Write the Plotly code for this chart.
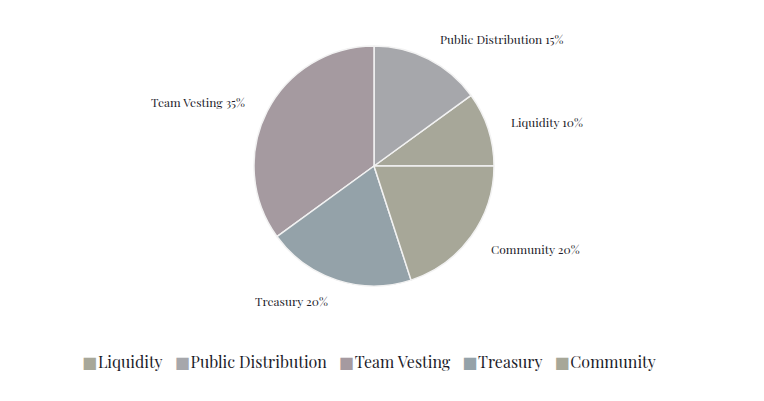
import math
import plotly.graph_objects as go

labels = ["Liquidity", "Public Distribution", "Team Vesting", "Treasury", "Community"]
values = [10, 15, 35, 20, 20]
colors = ["#a7a799", "#a6a7ab", "#a59aa0", "#94a2a9", "#a7a798"]

W, H = 764, 401
CX, CY, R = 374, 166, 120
FONT = "Playfair Display, Liberation Serif, DejaVu Serif, serif"
TEXT_COLOR = "#1c1c2a"

total = sum(values)
first_span = values[0] / total * 360.0

fig = go.Figure(go.Pie(
    labels=labels,
    values=values,
    sort=False,
    direction="counterclockwise",
    rotation=90 - first_span,
    marker=dict(colors=colors, line=dict(color="#f2f2f2", width=1.5)),
    textinfo="none",
    hoverinfo="label+percent",
    showlegend=False,
    domain=dict(x=[(CX - R) / W, (CX + R) / W], y=[1 - (CY + R) / H, 1 - (CY - R) / H]),
))

# outside labels placed at slice mid-angles derived from the data
start = 90.0
annotations = []
for lab, v in zip(labels, values):
    span = v / total * 360.0
    mid = math.radians(start - span / 2)
    start -= span
    rr = R + 22
    px = CX + rr * math.sin(mid)
    py = CY - rr * math.cos(mid)
    annotations.append(dict(
        x=px / W, y=1 - py / H, xref="paper", yref="paper",
        text=f"{lab} {v}%", showarrow=False,
        xanchor="left" if math.sin(mid) >= 0 else "right", yanchor="middle",
        font=dict(family=FONT, size=12, color=TEXT_COLOR),
    ))

# legend row
parts = []
for lab, c in zip(labels, colors):
    parts.append(
        f"<span style='font-family:DejaVu Sans;font-size:16px;color:{c}'>■</span>"
        f"<span style='font-size:3px'>&nbsp;</span>{lab}"
    )
legend_text = "&nbsp;&nbsp;&nbsp;".join(parts)
annotations.append(dict(
    x=368.5 / W, y=1 - 361 / H, xref="paper", yref="paper",
    text=legend_text, showarrow=False, xanchor="center", yanchor="middle",
    font=dict(family=FONT, size=16, color=TEXT_COLOR),
))

fig.update_layout(
    width=W, height=H,
    margin=dict(l=0, r=0, t=0, b=0),
    paper_bgcolor="white", plot_bgcolor="white",
    annotations=annotations,
    showlegend=False,
)

fig.write_html("out.html")
